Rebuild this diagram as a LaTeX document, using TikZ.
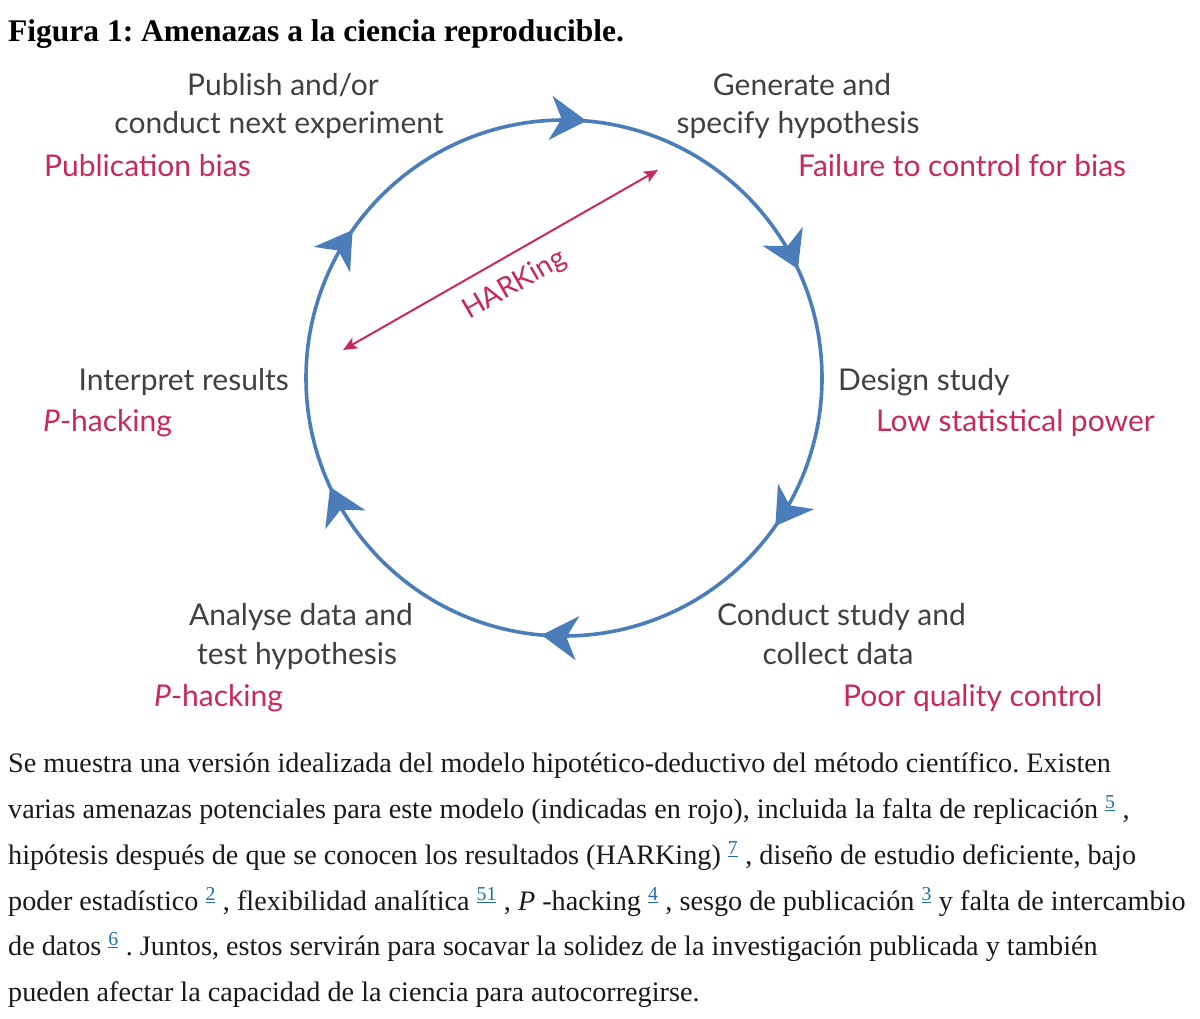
\documentclass[tikz,border=0pt]{standalone}
\usepackage{fontspec}
\setmainfont{Liberation Serif}
\newfontfamily\labfont{Lato}
\usetikzlibrary{arrows.meta,decorations.markings}
\definecolor{circblue}{HTML}{4A7DBA}
\definecolor{threat}{HTML}{C8285A}
\definecolor{labgray}{HTML}{404040}
\definecolor{refblue}{HTML}{1F6FA8}
\newcommand\refnum[1]{\textsuperscript{\textcolor{refblue}{\underline{#1}}}}
\frenchspacing
\tikzset{
  lbl/.style={font=\labfont\fontsize{30}{34}\selectfont, text=labgray, inner sep=0pt, anchor=base},
  thr/.style={font=\labfont\fontsize{30}{34}\selectfont, text=threat, inner sep=0pt, anchor=base west},
  captext/.style={font=\fontsize{28.2}{32}\selectfont, text=black!90, inner sep=0pt, anchor=base west},
  bigtip/.tip={Stealth[length=36pt,width=44pt,inset=11pt]},
  smalltip/.tip={Stealth[length=14pt,width=12pt,inset=3pt]}
}
\begin{document}
\begin{tikzpicture}[x=1pt,y=1pt]
\useasboundingbox (0,0) rectangle (1200,-1019);
% title
\node[font=\bfseries\fontsize{31.5}{36}\selectfont, inner sep=0pt, anchor=base west] (title) at (8,-42) {Figura 1: Amenazas a la ciencia reproducible.};
% cycle
\draw[circblue, line width=3.6pt, postaction={decorate},
  decoration={markings,
    mark=at position 0.0139 with {\arrow{bigtip}},
    mark=at position 0.1806 with {\arrow{bigtip}},
    mark=at position 0.3472 with {\arrow{bigtip}},
    mark=at position 0.5139 with {\arrow{bigtip}},
    mark=at position 0.6806 with {\arrow{bigtip}},
    mark=at position 0.8472 with {\arrow{bigtip}}}]
  (564,-120) arc[start angle=90, end angle=-270, radius=258];
% stage labels
\node[lbl] (pubA) at (283,-96) {Publish and/or};
\node[lbl] (pubB) at (279,-134) {conduct next experiment};
\node[thr] (pubT) at (44,-177) {Publication bias};
\node[lbl] (genA) at (802,-96) {Generate and};
\node[lbl] (genB) at (798,-134) {specify hypothesis};
\node[thr] (genT) at (798,-177) {Failure to control for bias};
\node[lbl, anchor=base west] (des) at (838,-390) {Design study};
\node[thr] (desT) at (876,-431) {Low statistical power};
\node[lbl, anchor=base west] (conA) at (717,-625) {Conduct study and};
\node[lbl] (conB) at (838,-664) {collect data};
\node[thr] (conT) at (843,-706) {Poor quality control};
\node[lbl] (anaA) at (301,-625) {Analyse data and};
\node[lbl] (anaB) at (297,-664) {test hypothesis};
\node[thr] (anaT) at (154,-706) {\textit{P}-hacking};
\node[lbl, anchor=base east] (int) at (289,-390) {Interpret results};
\node[thr] (intT) at (43,-431) {\textit{P}-hacking};
% HARKing
\coordinate (hA) at (343,-350);
\coordinate (hB) at (658,-170);
\draw[threat, line width=2pt, {smalltip}-{smalltip}] (hA) -- (hB)
  node[midway, sloped, below=15pt, inner sep=0pt, font=\labfont\fontsize{28}{32}\selectfont, text=threat] (hark) {HARKing};
% caption
\node[captext] (c1) at (8,-772) {Se muestra una versión idealizada del modelo hipotético-deductivo del método científico. Existen};
\node[captext] (c2) at (8,-818) {varias amenazas potenciales para este modelo (indicadas en rojo), incluida la falta de replicación \refnum{5} ,};
\node[captext] (c3) at (8,-864) {hipótesis después de que se conocen los resultados (HARKing) \refnum{7} , diseño de estudio deficiente, bajo};
\node[captext] (c4) at (8,-910) {poder estadístico \refnum{2} , flexibilidad analítica \refnum{51} , \textit{P} -hacking \refnum{4} , sesgo de publicación \refnum{3} y falta de intercambio};
\node[captext] (c5) at (8,-955) {de datos \refnum{6} . Juntos, estos servirán para socavar la solidez de la investigación publicada y también};
\node[captext] (c6) at (8,-1001) {pueden afectar la capacidad de la ciencia para autocorregirse.};
\end{tikzpicture}
\end{document}
